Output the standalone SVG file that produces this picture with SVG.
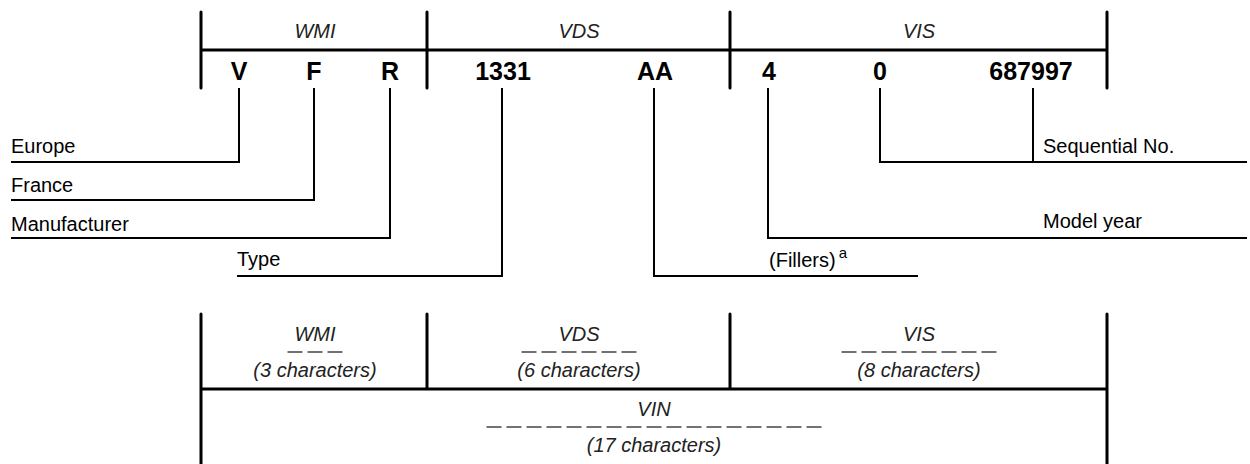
<svg xmlns="http://www.w3.org/2000/svg" width="1250" height="464" viewBox="0 0 1250 464">
<style>
.bar{stroke:#000;stroke-width:3;stroke-linecap:round;fill:none}
.hl{stroke:#000;stroke-width:3;fill:none}
.con{stroke:#000;stroke-width:2;fill:none}
.dash{stroke:#444;stroke-width:1.5;stroke-dasharray:15 5;fill:none}
.sec{font-family:"Liberation Sans",Arial,sans-serif;font-style:italic;font-size:20px;fill:#222;text-anchor:middle}
.code{font-family:"Liberation Sans",Arial,sans-serif;font-weight:bold;font-size:25px;fill:#000;text-anchor:middle}
.lbl{font-family:"Liberation Sans",Arial,sans-serif;font-size:20px;fill:#000}
</style>
<rect width="1250" height="464" fill="#fff"/>
<g id="top-frame">
<line class="bar" x1="201" y1="12" x2="201" y2="88"/>
<line class="bar" x1="427" y1="12" x2="427" y2="88"/>
<line class="bar" x1="730" y1="12" x2="730" y2="88"/>
<line class="bar" x1="1107" y1="12" x2="1107" y2="88"/>
<line class="hl" x1="201" y1="50" x2="1107" y2="50"/>
<text class="sec" x="315" y="38">WMI</text>
<text class="sec" x="579" y="38">VDS</text>
<text class="sec" x="919" y="38">VIS</text>
</g>
<g id="codes">
<text class="code" x="239" y="80">V</text>
<text class="code" x="314" y="80">F</text>
<text class="code" x="390" y="80">R</text>
<text class="code" x="503" y="80">1331</text>
<text class="code" x="655" y="80">AA</text>
<text class="code" x="769" y="80">4</text>
<text class="code" x="880" y="80">0</text>
<text class="code" x="1031" y="80">687997</text>
</g>
<g id="connectors">
<polyline class="con" points="239,88 239,162 11,162"/>
<polyline class="con" points="314,88 314,200 11,200"/>
<polyline class="con" points="390,88 390,238 11,238"/>
<polyline class="con" points="502,88 502,276 237,276"/>
<polyline class="con" points="654,88 654,276 918,276"/>
<polyline class="con" points="768,88 768,238 1247,238"/>
<polyline class="con" points="880,88 880,162 1247,162"/>
<line class="con" x1="1033" y1="88" x2="1033" y2="162"/>
</g>
<g id="labels">
<text class="lbl" x="11" y="153">Europe</text>
<text class="lbl" x="11" y="192">France</text>
<text class="lbl" x="11" y="231">Manufacturer</text>
<text class="lbl" x="237" y="266">Type</text>
<text class="lbl" x="769" y="267">(Fillers)<tspan font-size="15" dx="3" dy="-9">a</tspan></text>
<text class="lbl" x="1043" y="228">Model year</text>
<text class="lbl" x="1043" y="153">Sequential No.</text>
</g>
<g id="bottom-frame">
<line class="bar" x1="201" y1="314" x2="201" y2="466"/>
<line class="bar" x1="427" y1="314" x2="427" y2="388"/>
<line class="bar" x1="730" y1="314" x2="730" y2="388"/>
<line class="bar" x1="1107" y1="314" x2="1107" y2="466"/>
<line class="hl" x1="201" y1="389" x2="1107" y2="389"/>
</g>
<g id="wmi-box">
<text class="sec" x="315" y="341">WMI</text>
<line class="dash" x1="287.5" y1="352" x2="342.5" y2="352"/>
<text class="sec" x="315" y="377">(3 characters)</text>
</g>
<g id="vds-box">
<text class="sec" x="579" y="341">VDS</text>
<line class="dash" x1="521.5" y1="352" x2="636.5" y2="352"/>
<text class="sec" x="579" y="377">(6 characters)</text>
</g>
<g id="vis-box">
<text class="sec" x="919" y="341">VIS</text>
<line class="dash" x1="841.5" y1="352" x2="996.5" y2="352"/>
<text class="sec" x="919" y="377">(8 characters)</text>
</g>
<g id="vin-box">
<text class="sec" x="654" y="416">VIN</text>
<line class="dash" x1="486.5" y1="427" x2="821.5" y2="427"/>
<text class="sec" x="654" y="452">(17 characters)</text>
</g>
</svg>
